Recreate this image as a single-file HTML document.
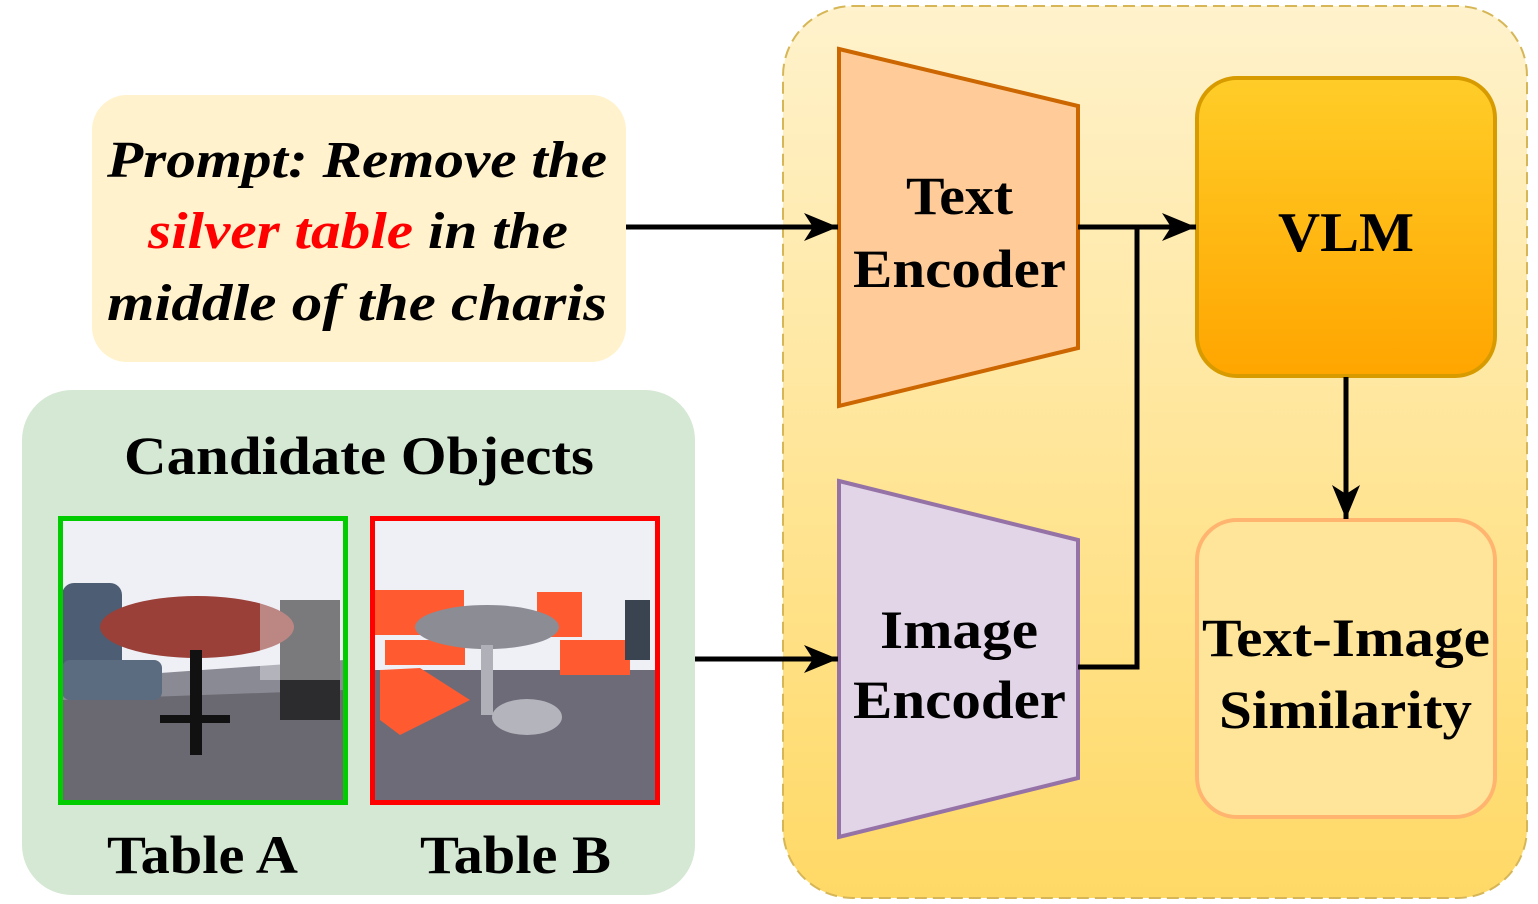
<!DOCTYPE html>
<html><head><meta charset="utf-8"><style>
html,body{margin:0;padding:0;background:#fff;}
svg{display:block;}
text{font-family:"Liberation Serif",serif;font-weight:bold;}
</style></head><body>
<svg width="1538" height="904" viewBox="0 0 1538 904" xmlns="http://www.w3.org/2000/svg">
<defs>
<linearGradient id="yg" x1="0" y1="0" x2="0" y2="1"><stop offset="0" stop-color="#fff2cc"/><stop offset="1" stop-color="#ffd966"/></linearGradient>
<linearGradient id="vg" x1="0" y1="0" x2="0" y2="1"><stop offset="0" stop-color="#ffcd28"/><stop offset="1" stop-color="#ffa500"/></linearGradient>
<marker id="ah" markerWidth="36" markerHeight="30" refX="34" refY="14" orient="auto" markerUnits="userSpaceOnUse" viewBox="0 0 36 30"><path d="M0,0 L34,14 L0,28 L9,14 z" fill="#000"/></marker>
</defs>
<rect x="783" y="6" width="744" height="892" rx="70" fill="url(#yg)" stroke="#d6b656" stroke-width="2" stroke-dasharray="12,6"/>
<rect x="92" y="95" width="534" height="267" rx="35" fill="#fff2cc"/>
<text x="107" y="177" font-size="52" font-style="italic" textLength="500" lengthAdjust="spacingAndGlyphs">Prompt: Remove the</text>
<text x="148" y="248" font-size="52" font-style="italic" textLength="420" lengthAdjust="spacingAndGlyphs"><tspan fill="#ff0000">silver table</tspan> in the</text>
<text x="107" y="320" font-size="52" font-style="italic" textLength="500" lengthAdjust="spacingAndGlyphs">middle of  the charis</text>
<rect x="22" y="390" width="673" height="505" rx="50" fill="#d5e8d4"/>
<text x="124" y="474" font-size="54" textLength="470" lengthAdjust="spacingAndGlyphs">Candidate Objects</text>
<g>
<rect x="62" y="520" width="282" height="281" fill="#eef0f6"/>
<rect x="62" y="680" width="282" height="121" fill="#6a6870"/>
<polygon points="62,680 344,660 344,690 62,700" fill="#8a8a94"/>
<rect x="62" y="583" width="60" height="110" rx="12" fill="#4d5e74"/>
<rect x="62" y="660" width="100" height="40" rx="8" fill="#5b6b80"/>
<rect x="280" y="600" width="60" height="120" fill="#2c2c2e"/>
<ellipse cx="197" cy="627" rx="97" ry="31" fill="#9a4038"/>
<rect x="190" y="650" width="12" height="105" fill="#111"/>
<rect x="160" y="715" width="70" height="8" fill="#111"/>
<rect x="260" y="560" width="80" height="120" fill="#f0f0f4" opacity="0.4"/>
</g>
<rect x="60.5" y="518.5" width="285" height="284" fill="none" stroke="#00cc00" stroke-width="5"/>
<g>
<rect x="374" y="520" width="282" height="281" fill="#eef0f6"/>
<rect x="374" y="670" width="282" height="131" fill="#6d6b78"/>
<rect x="374" y="590" width="90" height="45" fill="#ff5a30"/>
<rect x="385" y="640" width="80" height="25" fill="#ff5a30"/>
<rect x="537" y="592" width="45" height="45" fill="#ff5a30"/>
<rect x="560" y="640" width="70" height="35" fill="#ff5a30"/>
<polygon points="380,670 420,668 470,700 400,735 380,720" fill="#ff5a30"/>
<ellipse cx="487" cy="627" rx="72" ry="22" fill="#8c8c94"/>
<rect x="481" y="645" width="12" height="70" fill="#b0b0b8"/>
<ellipse cx="527" cy="717" rx="35" ry="18" fill="#b4b4bc"/>
<rect x="625" y="600" width="25" height="60" fill="#3a4350"/>
</g>
<rect x="372.5" y="518.5" width="285" height="284" fill="none" stroke="#ff0000" stroke-width="5"/>
<text x="107" y="873" font-size="54" textLength="191" lengthAdjust="spacingAndGlyphs">Table A</text>
<text x="420" y="873" font-size="54" textLength="191" lengthAdjust="spacingAndGlyphs">Table B</text>
<polygon points="839,49 1078,106 1078,348 839,406" fill="#ffcc99" stroke="#cc6600" stroke-width="4"/>
<text x="906" y="214" font-size="54" textLength="107" lengthAdjust="spacingAndGlyphs">Text</text>
<text x="853" y="287" font-size="54" textLength="213" lengthAdjust="spacingAndGlyphs">Encoder</text>
<polygon points="839,481 1078,540 1078,778 839,837" fill="#e1d5e7" stroke="#9673a6" stroke-width="4"/>
<text x="880" y="648" font-size="54" textLength="158" lengthAdjust="spacingAndGlyphs">Image</text>
<text x="853" y="718" font-size="54" textLength="213" lengthAdjust="spacingAndGlyphs">Encoder</text>
<rect x="1197" y="78" width="298" height="298" rx="40" fill="url(#vg)" stroke="#d79b00" stroke-width="4"/>
<text x="1278" y="251" font-size="56" textLength="136" lengthAdjust="spacingAndGlyphs">VLM</text>
<rect x="1197" y="520" width="298" height="297" rx="40" fill="#ffe599" stroke="#ffb570" stroke-width="4"/>
<text x="1202" y="656" font-size="54" textLength="288" lengthAdjust="spacingAndGlyphs">Text-Image</text>
<text x="1219" y="728" font-size="54" textLength="253" lengthAdjust="spacingAndGlyphs">Similarity</text>
<g stroke="#000" stroke-width="5" fill="none">
<line x1="626" y1="227" x2="838" y2="227" marker-end="url(#ah)"/>
<line x1="1078" y1="227" x2="1196" y2="227" marker-end="url(#ah)"/>
<polyline points="1078,667 1137,667 1137,227"/>
<line x1="695" y1="659" x2="838" y2="659" marker-end="url(#ah)"/>
<line x1="1346" y1="377" x2="1346" y2="519" marker-end="url(#ah)"/>
</g>
</svg>
</body></html>
